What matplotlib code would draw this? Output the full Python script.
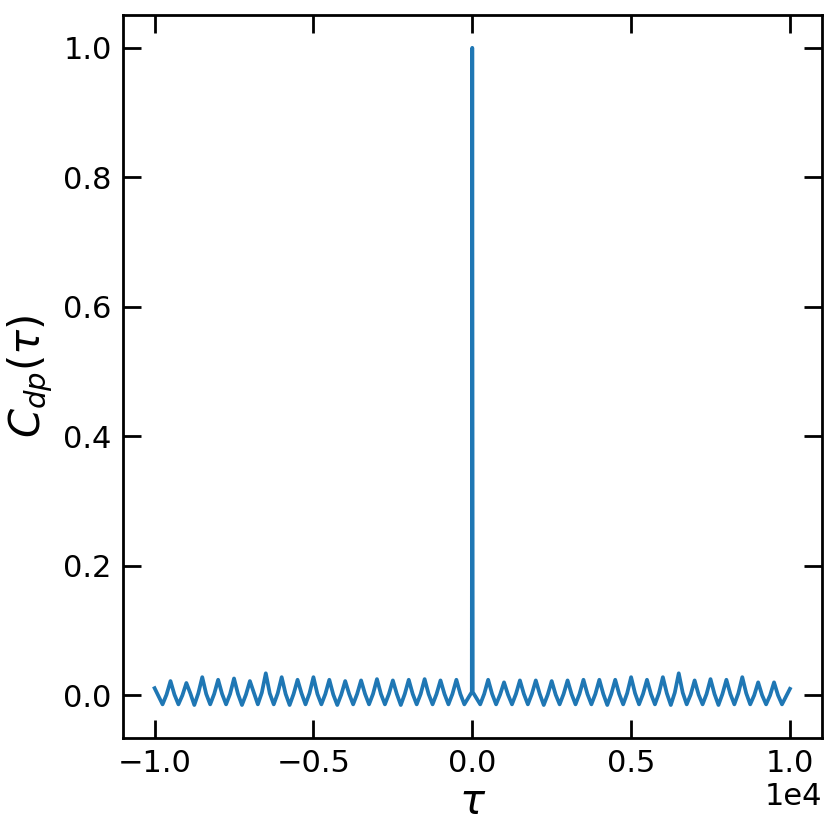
import matplotlib
matplotlib.use("Agg")
import matplotlib.pyplot as plt
import numpy as np

# Peaks of the oscillation (tau at multiples of 500, excluding 0)
tau_peaks = [-9500, -9000, -8500, -8000, -7500, -7000, -6500, -6000, -5500, -5000,
             -4500, -4000, -3500, -3000, -2500, -2000, -1500, -1000, -500,
             500, 1000, 1500, 2000, 2500, 3000, 3500, 4000, 4500, 5000,
             5500, 6000, 6500, 7000, 7500, 8000, 8500, 9000, 9500]
c_peaks = [0.022, 0.019, 0.028, 0.024, 0.026, 0.022, 0.034, 0.028, 0.024, 0.028,
           0.024, 0.022, 0.023, 0.025, 0.023, 0.024, 0.025, 0.023, 0.024,
           0.024, 0.020, 0.023, 0.023, 0.022, 0.023, 0.024, 0.024, 0.024, 0.028,
           0.024, 0.028, 0.034, 0.023, 0.025, 0.024, 0.028, 0.020, 0.020]

# Troughs between the peaks
tau_troughs = [-9750, -9250, -8750, -8250, -7750, -7250, -6750, -6250, -5750, -5250,
               -4750, -4250, -3750, -3250, -2750, -2250, -1750, -1250, -750, -250,
               250, 750, 1250, 1750, 2250, 2750, 3250, 3750, 4250, 4750,
               5250, 5750, 6250, 6750, 7250, 7750, 8250, 8750, 9250, 9750]
c_troughs = [-0.014, -0.014, -0.015, -0.014, -0.014, -0.015, -0.014, -0.014, -0.015, -0.014,
             -0.014, -0.015, -0.014, -0.014, -0.014, -0.015, -0.014, -0.014, -0.014, -0.014,
             -0.014, -0.014, -0.014, -0.014, -0.015, -0.014, -0.014, -0.014, -0.015, -0.014,
             -0.014, -0.014, -0.015, -0.014, -0.014, -0.015, -0.014, -0.014, -0.014, -0.014]

# Flanks, read roughly halfway between each peak and trough
tau_flanks = [-9625, -9375, -9125, -8875, -8625, -8375, -8125, -7875, -7625, -7375,
              -7125, -6875, -6625, -6375, -6125, -5875, -5625, -5375, -5125, -4875,
              -4625, -4375, -4125, -3875, -3625, -3375, -3125, -2875, -2625, -2375,
              -2125, -1875, -1625, -1375, -1125, -875, -625, -375,
              375, 625, 875, 1125, 1375, 1625, 1875, 2125, 2375, 2625,
              2875, 3125, 3375, 3625, 3875, 4125, 4375, 4625, 4875, 5125,
              5375, 5625, 5875, 6125, 6375, 6625, 6875, 7125, 7375, 7625,
              7875, 8125, 8375, 8625, 8875, 9125, 9375, 9625]
c_flanks = [0.001, 0.001, 0.000, 0.003, 0.003, 0.002, 0.002, 0.002, 0.002, 0.002,
            0.001, 0.004, 0.004, 0.003, 0.003, 0.002, 0.002, 0.003, 0.003, 0.002,
            0.002, 0.001, 0.001, 0.002, 0.002, 0.002, 0.002, 0.002, 0.002, 0.002,
            0.002, 0.002, 0.002, 0.002, 0.002, 0.002, 0.002, 0.002,
            0.002, 0.002, 0.001, 0.001, 0.002, 0.002, 0.002, 0.002, 0.001, 0.001,
            0.002, 0.002, 0.002, 0.002, 0.002, 0.002, 0.002, 0.002, 0.003, 0.003,
            0.002, 0.002, 0.003, 0.003, 0.004, 0.004, 0.001, 0.001, 0.002, 0.002,
            0.002, 0.002, 0.003, 0.003, 0.000, 0.000, 0.000, 0.000]

# Ends and the central spike
tau_extra = [-10000, -15, 0, 15, 10000]
c_extra = [0.011, 0.005, 1.0, 0.005, 0.010]

tau = np.array(tau_peaks + tau_troughs + tau_flanks + tau_extra, dtype=float)
c = np.array(c_peaks + c_troughs + c_flanks + c_extra, dtype=float)
order = np.argsort(tau)
tau, c = tau[order], c[order]

fig = plt.figure(figsize=(8.3, 8.3), dpi=100)
ax = fig.add_axes([0.148, 0.111, 0.842, 0.871])
ax.plot(tau, c, color="#1f77b4", linewidth=2.7, solid_joinstyle="round")

ax.set_xticks([-10000, -5000, 0, 5000, 10000])
ax.set_yticks([0.0, 0.2, 0.4, 0.6, 0.8, 1.0])
ax.ticklabel_format(axis="x", style="sci", scilimits=(0, 0))
ax.xaxis.get_offset_text().set_fontsize(22)
ax.tick_params(direction="in", length=13, width=2, labelsize=22,
               top=True, right=True, pad=8)
for s in ax.spines.values():
    s.set_linewidth(2)

ax.set_xlabel(r"$\tau$", fontsize=30, labelpad=2)
ax.set_ylabel(r"$C_{dp}(\tau)$", fontsize=30, labelpad=6)

fig.savefig("out.png", dpi=100)
